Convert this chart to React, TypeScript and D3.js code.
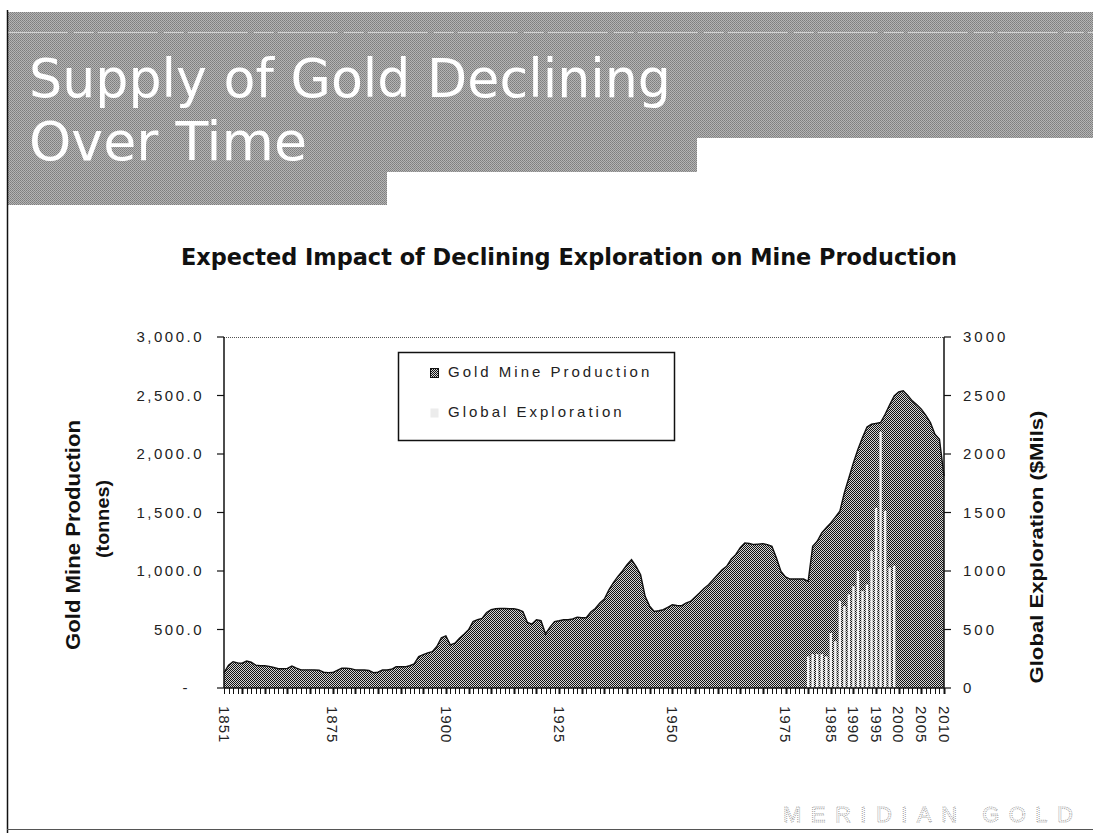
import * as d3 from "d3";
import React from "react";

// categories: one per year on the bottom axis
const years = d3.range(1851, 2011);

// gold mine production, tonnes (left axis), 1851..2010
const production = [
  130, 195, 225, 215, 212, 230, 220, 195, 190, 190,
  185, 175, 165, 165, 168, 188, 170, 155, 155, 155,
  154, 152, 135, 131, 132, 150, 169, 169, 166, 155,
  154, 154, 150, 131, 135, 154, 154, 160, 181, 181,
  181, 190, 206, 268, 285, 300, 311, 354, 430, 446,
  368, 383, 426, 460, 497, 568, 585, 595, 646, 670,
  677, 680, 680, 677, 677, 670, 654, 560, 546, 583,
  575, 463, 520, 568, 575, 583, 583, 590, 606, 600,
  600, 649, 680, 726, 760, 840, 900, 954, 1000, 1054,
  1097, 1040, 968, 783, 700, 654, 660, 669, 690, 711,
  705, 703, 725, 740, 775, 811, 850, 883, 925, 968,
  1010, 1040, 1100, 1140, 1200, 1240, 1235, 1226, 1230, 1234,
  1225, 1211, 1111, 997, 950, 931, 931, 931, 931, 911,
  1211, 1254, 1326, 1370, 1411, 1460, 1511, 1669, 1797, 1926,
  2040, 2140, 2230, 2254, 2262, 2269, 2340, 2420, 2497, 2530,
  2540, 2500, 2454, 2420, 2383, 2330, 2269, 2168, 2126, 1811,
];

// global exploration, $Mils (right axis)
const explorationYears = [
  1980, 1981, 1982, 1983, 1984, 1985, 1986, 1987, 1988, 1989,
  1990, 1991, 1992, 1993, 1994, 1995, 1996, 1997, 1998, 1999,
];
const exploration = [
  270, 290, 290, 290, 270, 470, 400, 745, 700, 800,
  870, 1000, 830, 885, 1170, 1540, 2190, 1515, 1030, 1045,
];

const leftTicks = [0, 500, 1000, 1500, 2000, 2500, 3000];
const rightTicks = [0, 500, 1000, 1500, 2000, 2500, 3000];
const labelYears = [1851, 1875, 1900, 1925, 1950, 1975, 1985, 1990, 1995, 2000, 2005, 2010];

const plot = { left: 224, right: 944, top: 337, bottom: 688 };
const axisFont = "'Liberation Sans', Arial, sans-serif";

export default function App() {
  const x = d3.scalePoint<number>().domain(years).range([plot.left, plot.right]);
  const yLeft = d3.scaleLinear().domain([0, 3000]).range([plot.bottom, plot.top]);
  const yRight = d3.scaleLinear().domain([0, 3000]).range([plot.bottom, plot.top]);

  const area = d3
    .area<number>()
    .x((_, i) => x(years[i]) as number)
    .y0(plot.bottom)
    .y1((d) => yLeft(d));
  const line = d3
    .line<number>()
    .x((_, i) => x(years[i]) as number)
    .y((d) => yLeft(d));

  const fmtLeft = (v: number) => (v === 0 ? "-" : d3.format(",.1f")(v));

  return (
    <svg
      width={1093}
      height={833}
      style={{ position: "absolute", left: 0, top: 0, background: "#fff" }}
    >
      <defs>
        <pattern id="dither" width="2" height="2" patternUnits="userSpaceOnUse">
          <rect width="2" height="2" fill="#d4d4d4" />
          <rect x="0" y="0" width="1" height="1" fill="#111" />
          <rect x="1" y="1" width="1" height="1" fill="#111" />
        </pattern>
        <pattern id="banner" width="2" height="2" patternUnits="userSpaceOnUse">
          <rect width="2" height="2" fill="#b4b4b4" />
          <rect x="0" y="0" width="1" height="1" fill="#7e7e7e" />
          <rect x="1" y="1" width="1" height="1" fill="#888" />
        </pattern>
      </defs>

      {/* slide banner */}
      <path d="M8,12 H1093 V138 H697 V172 H387 V205 H8 Z" fill="url(#banner)" />
      <line x1={8} x2={1093} y1={32.5} y2={32.5} stroke="#d2d2d2" strokeWidth={1} strokeDasharray="60 6 20 4" />
      <g fill="#fff" fontFamily="'DejaVu Sans', Verdana, sans-serif" fontSize={54}>
        <text x={29} y={97} textLength={642} lengthAdjust="spacingAndGlyphs">Supply of Gold Declining</text>
        <text x={29} y={160} textLength={278} lengthAdjust="spacingAndGlyphs">Over Time</text>
      </g>

      {/* slide frame */}
      <line x1={7.5} x2={7.5} y1={10} y2={833} stroke="#111" strokeWidth={1.5} />
      <line x1={7} x2={1093} y1={829.5} y2={829.5} stroke="#555" strokeWidth={1} />

      {/* chart title */}
      <text
        x={181}
        y={265}
        fontFamily="'Liberation Sans Narrow', 'DejaVu Sans Condensed', 'Liberation Sans', sans-serif"
        fontWeight="bold"
        fontSize={23}
        textLength={776}
        lengthAdjust="spacingAndGlyphs"
        fill="#111"
      >
        Expected Impact of Declining Exploration on Mine Production
      </text>

      {/* production area */}
      <path d={area(production) || ""} fill="url(#dither)" />
      <path d={line(production) || ""} fill="none" stroke="#111" strokeWidth={1.4} />

      {/* exploration bars */}
      {exploration.map((v, i) => {
        const cx = x(explorationYears[i]) as number;
        return (
          <rect
            key={`bar-${explorationYears[i]}`}
            x={cx - 1.2}
            y={yRight(v)}
            width={2.4}
            height={plot.bottom - yRight(v)}
            fill="#f2f2f2"
          />
        );
      })}

      {/* top dotted border */}
      <line
        x1={plot.left}
        x2={plot.right}
        y1={plot.top + 0.5}
        y2={plot.top + 0.5}
        stroke="#555"
        strokeDasharray="1 1"
      />

      {/* left axis */}
      <line x1={plot.left} x2={plot.left} y1={plot.top} y2={plot.bottom} stroke="#111" strokeWidth={1.5} />
      {leftTicks.map((t) => (
        <g key={`lt-${t}`}>
          <line x1={plot.left - 7} x2={plot.left} y1={yLeft(t)} y2={yLeft(t)} stroke="#111" strokeWidth={1.2} />
          <text
            x={t === 0 ? 190 : 204}
            y={yLeft(t)}
            dy="0.35em"
            textAnchor="end"
            fontFamily={axisFont}
            fontSize={15}
            letterSpacing={2.5}
            fill="#222"
          >
            {fmtLeft(t)}
          </text>
        </g>
      ))}

      {/* right axis */}
      <line x1={plot.right} x2={plot.right} y1={plot.top} y2={plot.bottom} stroke="#111" strokeWidth={1.5} />
      {rightTicks.map((t) => (
        <g key={`rt-${t}`}>
          <line x1={plot.right} x2={plot.right + 7} y1={yRight(t)} y2={yRight(t)} stroke="#111" strokeWidth={1.2} />
          <text
            x={963}
            y={yRight(t)}
            dy="0.35em"
            fontFamily={axisFont}
            fontSize={15}
            letterSpacing={3}
            fill="#222"
          >
            {t}
          </text>
        </g>
      ))}

      {/* bottom axis */}
      <line x1={plot.left} x2={plot.right} y1={plot.bottom} y2={plot.bottom} stroke="#111" strokeWidth={1.5} />
      {years.map((yr) => {
        const px = Math.round(x(yr) as number) + 0.5;
        return (
          <line
            key={`xt-${yr}`}
            x1={px}
            x2={px}
            y1={plot.bottom}
            y2={plot.bottom + 6}
            stroke="#111"
            strokeWidth={yr % 5 === 0 ? 2 : 1}
          />
        );
      })}
      {labelYears.map((yr) => (
        <text
          key={`xl-${yr}`}
          transform={`translate(${x(yr)}, 706) rotate(90)`}
          dy="0.35em"
          fontFamily={axisFont}
          fontSize={15}
          letterSpacing={1}
          fill="#222"
        >
          {yr}
        </text>
      ))}

      {/* axis titles */}
      <g fontFamily="'Liberation Sans', Arial, sans-serif" fontWeight="bold" fill="#111">
        <text transform="translate(80, 535) rotate(-90)" textAnchor="middle" fontSize={20} textLength={230} lengthAdjust="spacingAndGlyphs">
          Gold Mine Production
        </text>
        <text transform="translate(109, 519) rotate(-90)" textAnchor="middle" fontSize={18} textLength={78} lengthAdjust="spacingAndGlyphs">
          (tonnes)
        </text>
        <text transform="translate(1043, 547) rotate(-90)" textAnchor="middle" fontSize={18} textLength={273} lengthAdjust="spacingAndGlyphs">
          Global Exploration ($Mils)
        </text>
      </g>

      {/* legend */}
      <rect x={398.5} y={352.5} width={276} height={88} fill="#fff" stroke="#111" strokeWidth={1.5} />
      <rect x={430.5} y={368.5} width={8} height={9} fill="url(#dither)" stroke="#111" strokeWidth={1} />
      <text x={448} y={377} fontFamily={axisFont} fontSize={15} letterSpacing={3} fill="#222">
        Gold Mine Production
      </text>
      <rect x={430.5} y={408.5} width={8} height={9} fill="#ececec" />
      <text x={448} y={417} fontFamily={axisFont} fontSize={15} letterSpacing={3} fill="#222">
        Global Exploration
      </text>

      {/* footer logo text */}
      <text
        x={783}
        y={822}
        fontFamily={axisFont}
        fontSize={22}
        textLength={290}
        lengthAdjust="spacing"
        fill="none"
        stroke="#9a9a9a"
        strokeWidth={0.9}
        strokeDasharray="1 1"
      >
        MERIDIAN GOLD
      </text>
    </svg>
  );
}
